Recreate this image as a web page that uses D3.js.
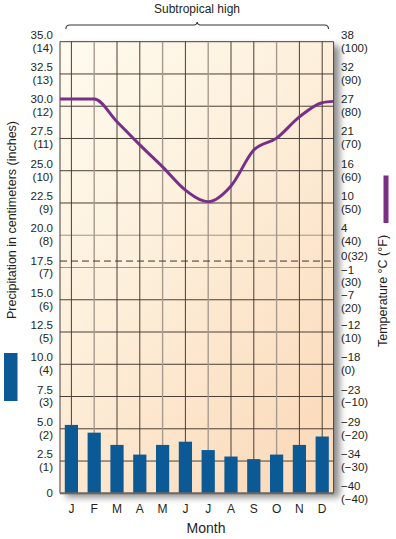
<!DOCTYPE html>
<html>
<head>
<meta charset="utf-8">
<script src="https://cdn.jsdelivr.net/npm/d3@7"></script>
<style>
  html, body { margin: 0; padding: 0; background: #ffffff; }
  svg { display: block; font-family: "Liberation Sans", Arial, Helvetica, sans-serif; }
</style>
</head>
<body>
<svg id="chart" width="396" height="539"></svg>
<script>
// ---------- data ----------
const months = ["J", "F", "M", "A", "M", "J", "J", "A", "S", "O", "N", "D"];
const precipCm = [5.3, 4.7, 3.75, 3.0, 3.75, 4.0, 3.35, 2.85, 2.65, 3.0, 3.75, 4.4];
const tempF = [82.2, 82.2, 75.2, 68.0, 61.2, 54.0, 50.4, 55.3, 66.4, 70.1, 76.7, 81.1];
const tempEdgeF = [82.2, 81.5]; // value at left and right borders of the plot
const precipTicks = [0, 2.5, 5, 7.5, 10, 12.5, 15, 17.5, 20, 22.5, 25, 27.5, 30, 32.5, 35];
const precipTickCm = ["0", "2.5", "5.0", "7.5", "10.0", "12.5", "15.0", "17.5", "20.0", "22.5", "25.0", "27.5", "30.0", "32.5", "35.0"];
const precipTickIn = ["", "(1)", "(2)", "(3)", "(4)", "(5)", "(6)", "(7)", "(8)", "(9)", "(10)", "(11)", "(12)", "(13)", "(14)"];
const tempTicksF = [-40, -30, -20, -10, 0, 10, 20, 30, 40, 50, 60, 70, 80, 90, 100];
const tempTickC = ["\u221240", "\u221234", "\u221229", "\u221223", "\u221218", "\u221212", "\u22127", "\u22121", "4", "10", "16", "21", "27", "32", "38"];
const tempTickFLabel = ["(\u221240)", "(\u221230)", "(\u221220)", "(\u221210)", "(0)", "(10)", "(20)", "(30)", "(40)", "(50)", "(60)", "(70)", "(80)", "(90)", "(100)"];
const freezingF = 32;
const lightMonthIdx = [1, 4, 6, 9];
const lightPrecipTicks = [17.5, 20];

// ---------- layout ----------
const svg = d3.select("#chart");
const L = 60, R = 333.6, T = 41.7, B = 493.3;
const FS = 11.5, LINE = 12.9;

const x = d3.scaleBand().domain(d3.range(months.length)).range([L, R]).paddingInner(0).paddingOuter(0);
const xc = i => x(i) + x.bandwidth() / 2;
const y = d3.scaleLinear().domain([0, 35]).range([B, T]);
const yT = d3.scaleLinear().domain([-40, 100]).range([B, T]);

const defs = svg.append("defs");
const bg = defs.append("linearGradient").attr("id", "bg")
  .attr("x1", "0%").attr("y1", "0%").attr("x2", "70%").attr("y2", "100%");
bg.append("stop").attr("offset", "0%").attr("stop-color", "#fefbee");
bg.append("stop").attr("offset", "45%").attr("stop-color", "#fdf0dc");
bg.append("stop").attr("offset", "100%").attr("stop-color", "#fbdcbd");

const sh = defs.append("filter").attr("id", "shadow").attr("x", "-5%").attr("y", "-5%").attr("width", "115%").attr("height", "115%");
sh.append("feGaussianBlur").attr("in", "SourceAlpha").attr("stdDeviation", 3.5).attr("result", "b");
sh.append("feOffset").attr("in", "b").attr("dx", 6).attr("dy", 4).attr("result", "o");
sh.append("feComponentTransfer").attr("in", "o").attr("result", "o2")
  .append("feFuncA").attr("type", "linear").attr("slope", 0.45);
const m = sh.append("feMerge");
m.append("feMergeNode").attr("in", "o2");
m.append("feMergeNode").attr("in", "SourceGraphic");

// background panel
svg.append("rect").attr("x", L).attr("y", T).attr("width", R - L).attr("height", B - T)
  .attr("fill", "url(#bg)").attr("filter", "url(#shadow)");

// horizontal gridlines
svg.append("g").selectAll("line").data(precipTicks.slice(1)).join("line")
  .attr("x1", L).attr("x2", R).attr("y1", d => y(d)).attr("y2", d => y(d))
  .attr("stroke", d => lightPrecipTicks.includes(d) ? "#9e958b" : "#4a3f36")
  .attr("stroke-width", 1);

// vertical gridlines
svg.append("g").selectAll("line").data(d3.range(months.length)).join("line")
  .attr("x1", d => xc(d)).attr("x2", d => xc(d)).attr("y1", T).attr("y2", B)
  .attr("stroke", d => lightMonthIdx.includes(d) ? "#a69a8e" : "#4a3f36")
  .attr("stroke-width", d => lightMonthIdx.includes(d) ? 1.4 : 1);

// borders
svg.append("line").attr("x1", L).attr("x2", L).attr("y1", T).attr("y2", B).attr("stroke", "#4a3f36");
svg.append("line").attr("x1", R).attr("x2", R).attr("y1", T).attr("y2", B).attr("stroke", "#4a3f36");

// freezing dashed line
svg.append("line").attr("x1", L).attr("x2", R).attr("y1", yT(freezingF)).attr("y2", yT(freezingF))
  .attr("stroke", "#3a3330").attr("stroke-width", 1).attr("stroke-dasharray", "7,4");

// bars
const bw = x.bandwidth() * 0.58;
svg.append("g").selectAll("rect").data(precipCm).join("rect")
  .attr("x", (d, i) => xc(i) - bw / 2).attr("width", bw)
  .attr("y", d => y(d)).attr("height", d => y(0) - y(d))
  .attr("fill", "#0b5a96");

// bottom axis line
svg.append("line").attr("x1", L).attr("x2", R).attr("y1", B).attr("y2", B)
  .attr("stroke", "#6e655c").attr("stroke-width", 2);

// temperature line
const pts = [[L, tempEdgeF[0]]]
  .concat(tempF.map((v, i) => [xc(i), v]))
  .concat([[R, tempEdgeF[1]]]);
const line = d3.line().x(d => d[0]).y(d => yT(d[1])).curve(d3.curveMonotoneX);
svg.append("path").attr("d", line(pts)).attr("fill", "none")
  .attr("stroke", "#7a2f87").attr("stroke-width", 3).attr("stroke-linejoin", "round");

// two-line label helper
function twoLine(g, xx, yy, a, b) {
  g.append("text").attr("x", xx).attr("y", yy - 3).text(a);
  g.append("text").attr("x", xx).attr("y", yy - 3 + LINE).text(b);
}

// left tick labels
const lg = svg.append("g").attr("font-size", FS).attr("fill", "#231f20").attr("text-anchor", "end");
precipTicks.forEach((t, i) => {
  const yy = y(t);
  if (precipTickIn[i] === "") {
    lg.append("text").attr("x", 53).attr("y", yy + 4).text(precipTickCm[i]);
  } else {
    twoLine(lg, 53, yy, precipTickCm[i], precipTickIn[i]);
  }
});

// right tick labels
const rg = svg.append("g").attr("font-size", FS).attr("fill", "#231f20").attr("text-anchor", "start");
tempTicksF.forEach((t, i) => {
  let yy = yT(t);
  if (t === 30) yy += 9;   // nudged below the freezing label
  if (t === 20) yy += 2.5;
  twoLine(rg, 341, yy, tempTickC[i], tempTickFLabel[i]);
});
rg.append("text").attr("x", 341).attr("y", yT(freezingF) - 1).text("0(32)");

// month labels
svg.append("g").attr("font-size", 12).attr("fill", "#231f20").attr("text-anchor", "middle")
  .selectAll("text").data(months).join("text")
  .attr("x", (d, i) => xc(i)).attr("y", 513).text(d => d);

// axis titles
svg.append("text").attr("x", 206).attr("y", 533).attr("text-anchor", "middle")
  .attr("font-size", 14).attr("fill", "#231f20").text("Month");

svg.append("text").attr("transform", "translate(16,220) rotate(-90)").attr("text-anchor", "middle")
  .attr("font-size", 12.5).attr("fill", "#231f20").text("Precipitation in centimeters (inches)");
svg.append("text").attr("transform", "translate(387,291) rotate(-90)").attr("text-anchor", "middle")
  .attr("font-size", 12.5).attr("fill", "#231f20").text("Temperature \u00B0C (\u00B0F)");

// legend swatches
svg.append("rect").attr("x", 4).attr("y", 353).attr("width", 13.5).attr("height", 48).attr("fill", "#0b5a96");
svg.append("rect").attr("x", 383.5).attr("y", 175.5).attr("width", 5).attr("height", 47.5).attr("fill", "#7a2f87");

// top bracket
const bx0 = xc(0) - 5.5, bx1 = xc(months.length - 1) + 6.3, bmid = (bx0 + bx1) / 2, by = 25;
svg.append("path")
  .attr("d", `M${bx0},${by + 4} Q${bx0},${by} ${bx0 + 4},${by} L${bmid - 3},${by} Q${bmid - 0.5},${by} ${bmid},${by - 3} Q${bmid + 0.5},${by} ${bmid + 3},${by} L${bx1 - 4},${by} Q${bx1},${by} ${bx1},${by + 4}`)
  .attr("fill", "none").attr("stroke", "#3a3330").attr("stroke-width", 1.1);
svg.append("text").attr("x", 197).attr("y", 13).attr("text-anchor", "middle")
  .attr("font-size", 12).attr("fill", "#231f20").text("Subtropical high");
</script>
</body>
</html>
